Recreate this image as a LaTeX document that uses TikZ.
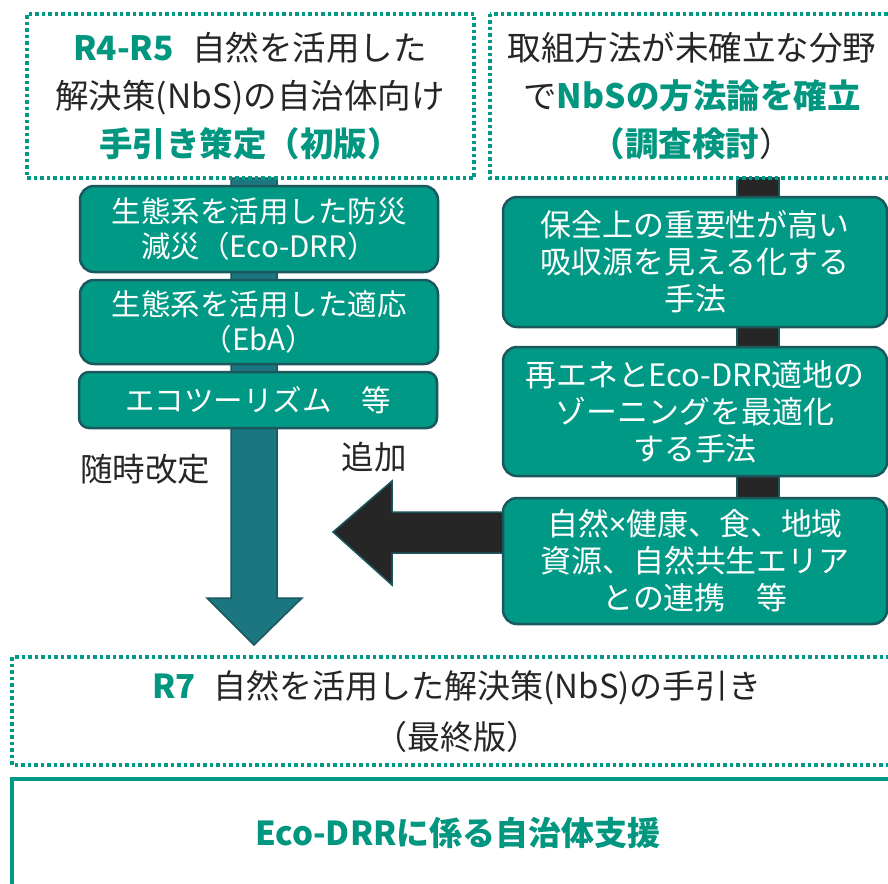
\documentclass[tikz,border=0pt]{standalone}
\usepackage{fontspec}
\setmainfont{Noto Sans CJK JP}
\newfontfamily\latinf{Noto Sans}
\definecolor{teal1}{RGB}{0,153,133}
\definecolor{tealtxt}{RGB}{0,150,128}
\definecolor{bordr}{RGB}{26,88,94}
\definecolor{barc}{RGB}{28,118,128}
\definecolor{ink}{RGB}{38,38,38}
\tikzset{
  dotbox/.style={draw=teal1, line width=3.5pt, dash pattern=on 3.5pt off 3pt},
  gbox/.style={draw=bordr, fill=teal1, line width=2.5pt, rounded corners=14pt, text=white, align=center, inner sep=0pt},
  ltxt/.style={font=\fontsize{29.5}{35}\selectfont},
  rtxt/.style={font=\fontsize{30.9}{37}\selectfont},
  head/.style={align=center, text=ink, font=\fontsize{33.5}{48}\selectfont},
  lab/.style={text=ink, font=\fontsize{32.5}{40}\selectfont},
  blockarrow/.style={draw=bordr, line width=1.5pt, line join=miter}
}
\begin{document}
\begin{tikzpicture}[x=1pt,y=-1pt]
\useasboundingbox (0,0) rectangle (888,883);
\clip (0,0) rectangle (888,883);
\fill[white] (0,0) rectangle (888,883);

% connectors behind boxes
\draw[blockarrow, fill=barc] (231,178) -- (277,178) -- (277,598) -- (302,598) -- (254,645) -- (207,598) -- (231,598) -- cycle;
\draw[blockarrow, fill=ink] (737,178) rectangle (779,505);
\draw[blockarrow, fill=ink] (515,512) -- (392,512) -- (392,481) -- (333,532) -- (392,585) -- (392,553) -- (515,553) -- cycle;

% top boxes
\node[dotbox, minimum width=447pt, minimum height=164pt] (tl) at (250.5,96) {};
\node[head] (tlt) at (250,96) {{\color{tealtxt}\bfseries R4-R5}\hspace{0.55em}自然を活用した\\解決策(NbS)の自治体向け\\{\color{tealtxt}\bfseries 手引き策定（初版）}};
\draw[dotbox] (490,14) rectangle (905,178);
\node[head] (trt) at (692,96) {取組方法が未確立な分野\\で{\color{tealtxt}\bfseries NbSの方法論を確立}\\{\color{tealtxt}\bfseries （調査検討}）};

% left column
\node[gbox, ltxt, minimum width=358pt, minimum height=86pt] (l1) at (259,229) {生態系を活用した防災\\減災（Eco-DRR）};
\node[gbox, ltxt, minimum width=358pt, minimum height=84pt] (l2) at (259,322) {生態系を活用した適応\\（EbA）};
\node[gbox, ltxt, minimum width=358pt, minimum height=56pt, rounded corners=10pt] (l3) at (258,400) {エコツーリズム　等};

% right column
\node[gbox, rtxt, minimum width=384pt, minimum height=130pt] (r1) at (695,262) {保全上の重要性が高い\\吸収源を見える化する\\手法};
\node[gbox, rtxt, minimum width=384pt, minimum height=129pt] (r2) at (695,411.5) {再エネとEco-DRR適地の\\ゾーニングを最適化\\する手法};
\node[gbox, rtxt, minimum width=384pt, minimum height=126pt] (r3) at (695,561) {自然{\latinf ×}健康、食、地域\\資源、自然共生エリア\\との連携　等};

% labels
\node[lab] (kaitei) at (145,469) {随時改定};
\node[lab] (tsuika) at (374,457) {追加};

% bottom
\draw[dotbox] (12,657) rectangle (905,765);
\node[head, font=\fontsize{33}{51}\selectfont] (bt) at (457,712) {{\color{tealtxt}\bfseries R7}\hspace{0.55em}自然を活用した解決策(NbS)の手引き\\（最終版）};
\draw[teal1, line width=4pt] (12,905) -- (12,779) -- (905,779);
\node[text=tealtxt, font=\fontsize{33}{36}\selectfont\bfseries] (eco) at (458,833) {Eco-DRRに係る自治体支援};
\end{tikzpicture}
\end{document}
